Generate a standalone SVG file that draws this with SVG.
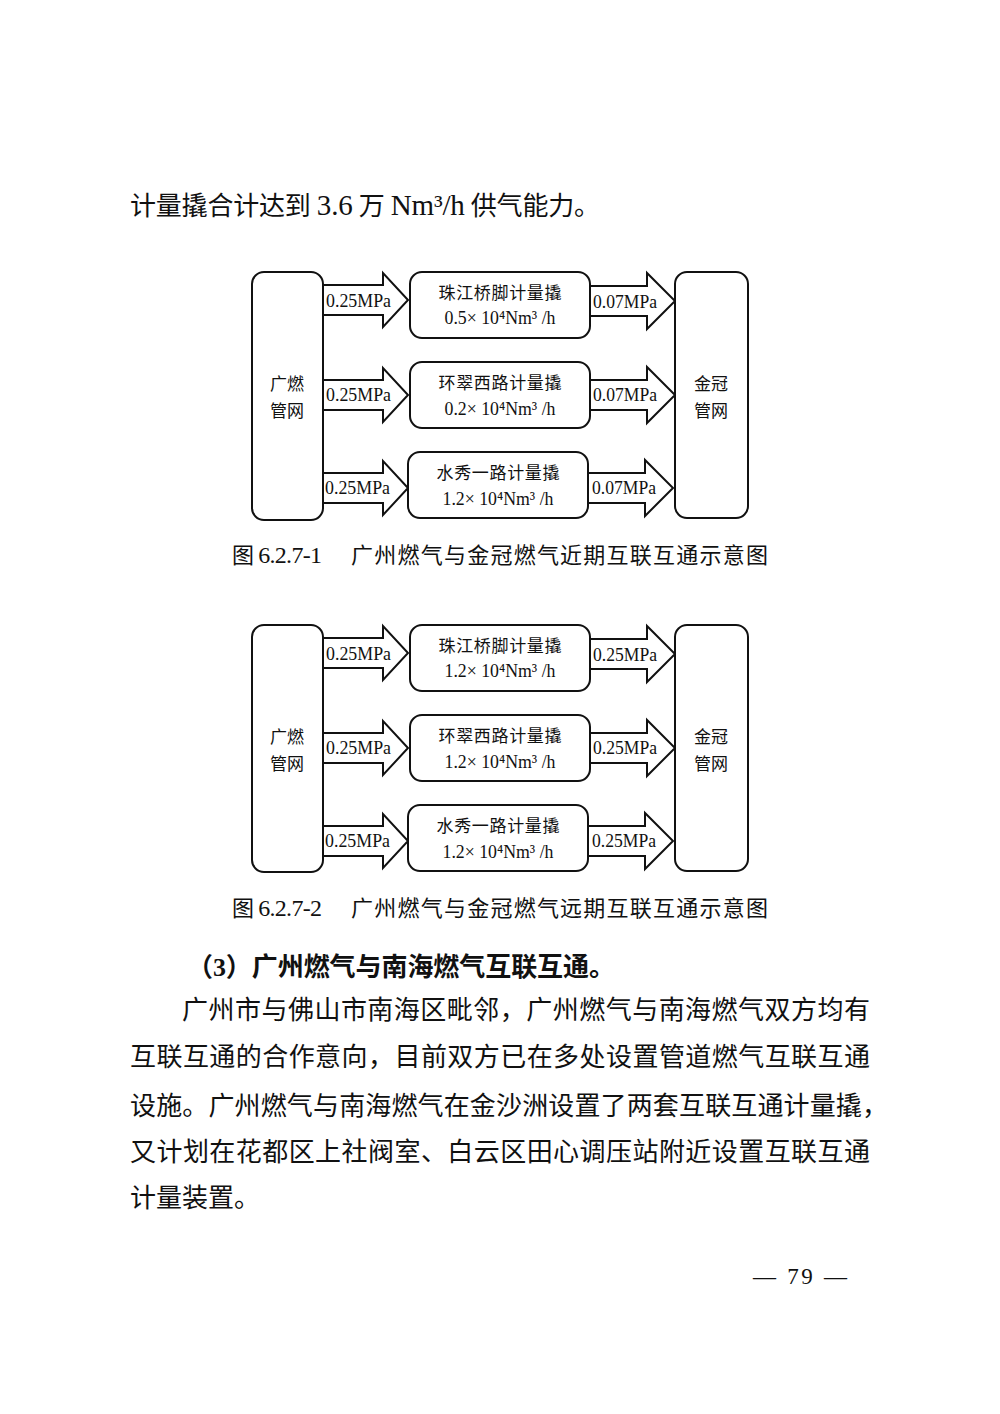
<svg xmlns="http://www.w3.org/2000/svg" xmlns:xlink="http://www.w3.org/1999/xlink" width="1000" height="1414" viewBox="0 0 1000 1414">
<style>
text{font-family:"Liberation Serif","Noto Sans CJK SC",serif;fill:#111}
.body{font-size:26px}
.lat{font-size:29px}
.head{font-size:26px;font-weight:bold}
.cap{font-size:22px}
.capl{font-size:24px}
.nt{font-size:17px;text-anchor:middle}
.nl{font-size:19px;text-anchor:middle}
.lb{font-size:19px}
.box{fill:#fff;stroke:#111;stroke-width:2}
.arr{fill:#fff;stroke:#111;stroke-width:2;stroke-linejoin:miter}
</style>
<defs>
<polygon id="la" class="arr" points="0,-15 61,-15 61,-27 86,0 61,27 61,15 0,15"/>
<polygon id="ra" class="arr" points="0,-15 57,-15 57,-28 85,0 57,28 57,15 0,15"/>
</defs>
<rect width="1000" height="1414" fill="#fff"/>
<text class="body" x="130" y="215" textLength="470" lengthAdjust="spacing">计量撬合计达到 <tspan class="lat">3.6</tspan> 万 <tspan class="lat">Nm³/h</tspan> 供气能力。</text>

<g id="diagram1">
<g id="d1-connectors">
<use xlink:href="#la" x="322" y="300"/>
<use xlink:href="#la" x="322" y="395"/>
<use xlink:href="#la" x="322" y="488"/>
<use xlink:href="#ra" x="590" y="301"/>
<use xlink:href="#ra" x="590" y="395"/>
<use xlink:href="#ra" x="588" y="488"/>
<text class="lb" x="326" y="307" textLength="65" lengthAdjust="spacingAndGlyphs">0.25MPa</text>
<text class="lb" x="326" y="401" textLength="65" lengthAdjust="spacingAndGlyphs">0.25MPa</text>
<text class="lb" x="325" y="494" textLength="65" lengthAdjust="spacingAndGlyphs">0.25MPa</text>
<text class="lb" x="593" y="308" textLength="64" lengthAdjust="spacingAndGlyphs">0.07MPa</text>
<text class="lb" x="593" y="401" textLength="64" lengthAdjust="spacingAndGlyphs">0.07MPa</text>
<text class="lb" x="592" y="494" textLength="64" lengthAdjust="spacingAndGlyphs">0.07MPa</text>
</g>
<g id="d1-gz">
<rect class="box" x="252" y="272" width="71" height="248" rx="12"/>
<text class="nt" x="287" y="390">广燃</text>
<text class="nt" x="287" y="417">管网</text>
</g>
<g id="d1-jg">
<rect class="box" x="675" y="272" width="73" height="246" rx="12"/>
<text class="nt" x="711" y="390">金冠</text>
<text class="nt" x="711" y="417">管网</text>
</g>
<g id="d1-n1">
<rect class="box" x="410" y="272" width="180" height="66" rx="12"/>
<text class="nt" x="500" y="299" textLength="123">珠江桥脚计量撬</text>
<text class="nl" x="500" y="324" textLength="111" lengthAdjust="spacingAndGlyphs">0.5× 10⁴Nm³ /h</text>
</g>
<g id="d1-n2">
<rect class="box" x="410" y="362" width="180" height="66" rx="12"/>
<text class="nt" x="500" y="389" textLength="123">环翠西路计量撬</text>
<text class="nl" x="500" y="415" textLength="111" lengthAdjust="spacingAndGlyphs">0.2× 10⁴Nm³ /h</text>
</g>
<g id="d1-n3">
<rect class="box" x="408" y="452" width="180" height="66" rx="12"/>
<text class="nt" x="498" y="479" textLength="123">水秀一路计量撬</text>
<text class="nl" x="498" y="505" textLength="111" lengthAdjust="spacingAndGlyphs">1.2× 10⁴Nm³ /h</text>
</g>
</g>
<text class="cap" x="232" y="563" textLength="90" lengthAdjust="spacing">图 <tspan class="capl">6.2.7-1</tspan></text>
<text class="cap" x="351" y="563" textLength="417" lengthAdjust="spacing">广州燃气与金冠燃气近期互联互通示意图</text>

<g id="diagram2" transform="translate(0,353)">
<g id="d2-connectors">
<use xlink:href="#la" x="322" y="300"/>
<use xlink:href="#la" x="322" y="395"/>
<use xlink:href="#la" x="322" y="488"/>
<use xlink:href="#ra" x="590" y="301"/>
<use xlink:href="#ra" x="590" y="395"/>
<use xlink:href="#ra" x="588" y="488"/>
<text class="lb" x="326" y="307" textLength="65" lengthAdjust="spacingAndGlyphs">0.25MPa</text>
<text class="lb" x="326" y="401" textLength="65" lengthAdjust="spacingAndGlyphs">0.25MPa</text>
<text class="lb" x="325" y="494" textLength="65" lengthAdjust="spacingAndGlyphs">0.25MPa</text>
<text class="lb" x="593" y="308" textLength="64" lengthAdjust="spacingAndGlyphs">0.25MPa</text>
<text class="lb" x="593" y="401" textLength="64" lengthAdjust="spacingAndGlyphs">0.25MPa</text>
<text class="lb" x="592" y="494" textLength="64" lengthAdjust="spacingAndGlyphs">0.25MPa</text>
</g>
<g id="d2-gz">
<rect class="box" x="252" y="272" width="71" height="247" rx="12"/>
<text class="nt" x="287" y="390">广燃</text>
<text class="nt" x="287" y="417">管网</text>
</g>
<g id="d2-jg">
<rect class="box" x="675" y="272" width="73" height="246" rx="12"/>
<text class="nt" x="711" y="390">金冠</text>
<text class="nt" x="711" y="417">管网</text>
</g>
<g id="d2-n1">
<rect class="box" x="410" y="272" width="180" height="66" rx="12"/>
<text class="nt" x="500" y="299" textLength="123">珠江桥脚计量撬</text>
<text class="nl" x="500" y="324" textLength="111" lengthAdjust="spacingAndGlyphs">1.2× 10⁴Nm³ /h</text>
</g>
<g id="d2-n2">
<rect class="box" x="410" y="362" width="180" height="66" rx="12"/>
<text class="nt" x="500" y="389" textLength="123">环翠西路计量撬</text>
<text class="nl" x="500" y="415" textLength="111" lengthAdjust="spacingAndGlyphs">1.2× 10⁴Nm³ /h</text>
</g>
<g id="d2-n3">
<rect class="box" x="408" y="452" width="180" height="66" rx="12"/>
<text class="nt" x="498" y="479" textLength="123">水秀一路计量撬</text>
<text class="nl" x="498" y="505" textLength="111" lengthAdjust="spacingAndGlyphs">1.2× 10⁴Nm³ /h</text>
</g>
</g>
<text class="cap" x="232" y="916" textLength="90" lengthAdjust="spacing">图 <tspan class="capl">6.2.7-2</tspan></text>
<text class="cap" x="351" y="916" textLength="417" lengthAdjust="spacing">广州燃气与金冠燃气远期互联互通示意图</text>

<text class="head" x="187" y="976" textLength="428" lengthAdjust="spacing">（3）广州燃气与南海燃气互联互通。</text>
<text class="body" x="182" y="1019" textLength="688" lengthAdjust="spacing">广州市与佛山市南海区毗邻，广州燃气与南海燃气双方均有</text>
<text class="body" x="130" y="1066" textLength="740" lengthAdjust="spacing">互联互通的合作意向，目前双方已在多处设置管道燃气互联互通</text>
<text class="body" x="130" y="1115" textLength="758" lengthAdjust="spacing">设施。广州燃气与南海燃气在金沙洲设置了两套互联互通计量撬，</text>
<text class="body" x="130" y="1161" textLength="740" lengthAdjust="spacing">又计划在花都区上社阀室、白云区田心调压站附近设置互联互通</text>
<text class="body" x="130" y="1207">计量装置。</text>
<text class="body" x="753" y="1284" style="font-size:23px" textLength="94" lengthAdjust="spacing">— 79 —</text>
</svg>
